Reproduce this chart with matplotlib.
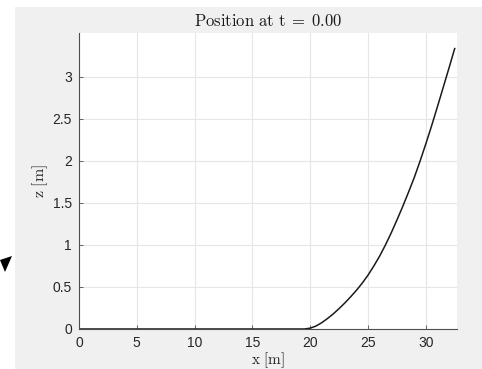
import matplotlib
matplotlib.use("Agg")
import matplotlib.pyplot as plt
from matplotlib.patches import Rectangle, Polygon

plt.rcParams['mathtext.fontset'] = 'cm'
plt.rcParams['font.family'] = ['Liberation Sans', 'DejaVu Sans']

# track profile
x_pos = [0, 19.0, 19.5, 20.0, 20.5, 21.0, 21.5, 22.0, 22.5, 23.0, 23.5, 24.0, 24.5, 25.0,
         25.5, 26.0, 26.5, 27.0, 27.5, 28.0, 28.5, 29.0, 29.5, 30.0, 30.5, 31.0, 31.5, 32.0, 32.5]
z_pos = [0, 0, 0, 0.01, 0.035, 0.075, 0.125, 0.18, 0.243, 0.31, 0.383, 0.46, 0.545, 0.64,
         0.748, 0.865, 0.997, 1.14, 1.295, 1.455, 1.625, 1.80, 1.995, 2.20, 2.415, 2.64, 2.87, 3.10, 3.335]

x_ticks = [0, 5, 10, 15, 20, 25, 30]
z_ticks = [0, 0.5, 1, 1.5, 2, 2.5, 3]
t_now = 0.00

W, H = 482, 369
fig = plt.figure(figsize=(W / 100, H / 100), dpi=100, facecolor='white')

# grey figure panel (MATLAB style)
fig.patches.append(Rectangle((15 / W, 0), 1 - 15 / W, (H - 7) / H,
                             transform=fig.transFigure, facecolor='#f0f0f0',
                             edgecolor='none', zorder=-10))
# stray cursor arrowhead on the left
fig.patches.append(Polygon([(0 / W, 1 - 260 / H), (12 / W, 1 - 256 / H), (5 / W, 1 - 272 / H)],
                           closed=True, transform=fig.transFigure,
                           facecolor='black', edgecolor='none', zorder=-5))

ax = fig.add_axes([79 / W, 1 - 329 / H, 378 / W, 296 / H])
ax.set_facecolor('white')
ax.plot(x_pos, z_pos, color='#1a1a1a', lw=1.1)

ax.set_xlim(0, 32.7)
ax.set_ylim(0, 3.52)
ax.set_xticks(x_ticks)
ax.set_yticks(z_ticks)
ax.set_xticklabels([str(v) for v in x_ticks])
ax.set_yticklabels([('%g' % v) for v in z_ticks])

ax.grid(True, color='#e6e6e6', lw=0.8)
ax.set_axisbelow(True)
for s in ['top', 'right']:
    ax.spines[s].set_visible(False)
for s in ['left', 'bottom']:
    ax.spines[s].set_color('#4d4d4d')
    ax.spines[s].set_linewidth(0.8)
ax.tick_params(direction='in', length=3, width=0.6, colors='#4d4d4d',
               labelcolor='#262626', labelsize=10)
ax.tick_params(axis='x', pad=5)
ax.tick_params(axis='y', pad=5)

ax.set_title(r'$\mathrm{Position\ at\ t}\;{=}\;%.2f$' % t_now, fontsize=12, pad=5, color='#1a1a1a')
ax.set_xlabel(r'$\mathrm{x\ [m]}$', fontsize=11, color='#262626', va='baseline')
ax.set_ylabel(r'$\mathrm{z\ [m]}$', fontsize=11.5, color='#262626')
ax.xaxis.set_label_coords(0.5, -0.12)
ax.yaxis.set_label_coords(-0.078, 0.5)

fig.savefig('out.png', dpi=100, facecolor=fig.get_facecolor())
